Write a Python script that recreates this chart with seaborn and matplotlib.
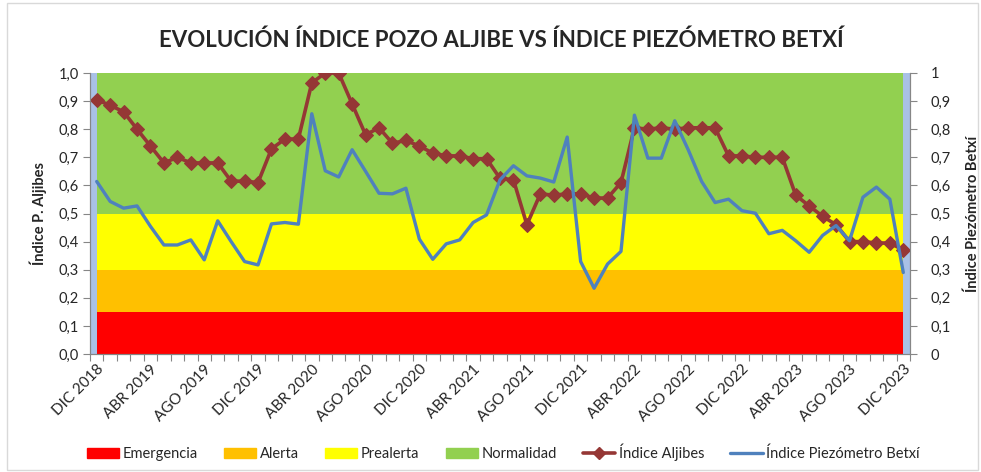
import matplotlib
import matplotlib.pyplot as plt
import matplotlib.patches as mpatches
import matplotlib.lines as mlines
import numpy as np
import pandas as pd
import seaborn as sns

matplotlib.use("Agg")

# Monthly series, DIC 2018 .. DIC 2023
MONTHS = ["ENE", "FEB", "MAR", "ABR", "MAY", "JUN",
          "JUL", "AGO", "SEP", "OCT", "NOV", "DIC"]
START_YEAR, START_MONTH = 2018, 12
N_MONTHS = 61

indice_aljibes = [
    0.905, 0.885, 0.862, 0.80, 0.74, 0.68, 0.70, 0.68, 0.68, 0.68,
    0.615, 0.615, 0.61, 0.73, 0.765, 0.765, 0.965, 1.0, 1.0, 0.89,
    0.78, 0.805, 0.75, 0.76, 0.74, 0.715, 0.705, 0.705, 0.695, 0.695,
    0.625, 0.62, 0.46, 0.57, 0.565, 0.57, 0.57, 0.555, 0.555, 0.61,
    0.805, 0.80, 0.805, 0.80, 0.805, 0.805, 0.805, 0.705, 0.705, 0.70,
    0.70, 0.70, 0.565, 0.527, 0.49, 0.46, 0.40, 0.40, 0.395, 0.395,
    0.37,
]
indice_piezometro = [
    0.614, 0.543, 0.519, 0.527, 0.454, 0.388, 0.388, 0.406, 0.335, 0.474,
    0.40, 0.329, 0.317, 0.463, 0.468, 0.462, 0.855, 0.652, 0.63, 0.727,
    0.65, 0.572, 0.57, 0.59, 0.409, 0.337, 0.392, 0.406, 0.468, 0.495,
    0.62, 0.67, 0.634, 0.626, 0.612, 0.772, 0.329, 0.234, 0.32, 0.365,
    0.85, 0.697, 0.697, 0.83, 0.727, 0.614, 0.539, 0.551, 0.51, 0.501,
    0.428, 0.44, 0.403, 0.362, 0.422, 0.457, 0.403, 0.558, 0.594, 0.551,
    0.29,
]

# Threshold bands (stacked heights)
band_names = ["Emergencia", "Alerta", "Prealerta", "Normalidad"]
band_heights = [0.15, 0.15, 0.20, 0.50]
band_colors = ["#FF0000", "#FFC000", "#FFFF00", "#92D050"]

ALJ_COLOR = "#953735"
PIEZ_COLOR = "#4F81BD"
EDGE_COLOR = "#a9c1e6"
AXIS_GRAY = "#868686"


def month_labels():
    labels = []
    for k in range(N_MONTHS):
        m = (START_MONTH - 1 + k) % 12
        y = START_YEAR + (START_MONTH - 1 + k) // 12
        labels.append(f"{MONTHS[m]} {y}")
    return labels


def main():
    sns.set_theme(style="white")
    plt.rcParams["font.family"] = ["Lato", "DejaVu Sans"]

    labels = month_labels()
    df = pd.DataFrame({
        "idx": np.arange(N_MONTHS),
        "mes": labels,
        "aljibes": indice_aljibes,
        "piezometro": indice_piezometro,
    })

    fig = plt.figure(figsize=(9.81, 4.72), dpi=100)
    ax = fig.add_axes([90 / 981, 1 - 354 / 472, 820 / 981, 281 / 472])

    # coloured threshold bands
    x = df["idx"].to_numpy()
    ax.stackplot(x, *[np.full(N_MONTHS, h) for h in band_heights],
                 colors=band_colors, linewidth=0)
    ax.axvspan(-0.5, 0, color=EDGE_COLOR, lw=0)
    ax.axvspan(N_MONTHS - 1, N_MONTHS - 0.5, color=EDGE_COLOR, lw=0)

    sns.lineplot(data=df, x="idx", y="aljibes", ax=ax, color=ALJ_COLOR,
                 lw=2.6, marker="D", markersize=7, markeredgecolor=ALJ_COLOR,
                 zorder=5)

    # secondary axis drawn above the primary one
    ax2 = ax.twinx()
    sns.lineplot(data=df, x="idx", y="piezometro", ax=ax2, color=PIEZ_COLOR,
                 lw=2.4, zorder=4)

    for a in (ax, ax2):
        a.set_xlim(-0.5, N_MONTHS - 0.5)
        a.set_ylim(0, 1)
        for s in a.spines.values():
            s.set_color(AXIS_GRAY)
            s.set_linewidth(0.8)
        a.spines["top"].set_visible(False)

    yt = np.round(np.arange(0, 1.01, 0.1), 1)
    ax.set_yticks(yt)
    ax.set_yticklabels([f"{v:.1f}".replace(".", ",") for v in yt])
    ax2.set_yticks(yt)
    ax2.set_yticklabels([("0" if v == 0 else "1" if v == 1 else f"{v:.1f}".replace(".", ",")) for v in yt])

    ax.set_xticks(np.arange(0, N_MONTHS, 4))
    ax.set_xticklabels(labels[::4], rotation=45, ha="right",
                       rotation_mode="anchor", fontsize=11)
    ax.set_xticks(np.arange(-0.5, N_MONTHS, 1), minor=True)
    ax.tick_params(axis="x", which="major", length=0, pad=6, bottom=True)
    ax.tick_params(axis="x", which="minor", length=5, color=AXIS_GRAY,
                   bottom=True, width=0.8)
    ax.tick_params(axis="y", length=5, color=AXIS_GRAY, left=True,
                   labelsize=10.5, pad=3, width=0.8)
    ax2.tick_params(axis="y", length=5, color=AXIS_GRAY, right=True,
                    labelsize=10.5, pad=10, width=0.8)

    ax.set_xlabel("")
    ax.set_ylabel("Índice P. Aljibes", fontsize=10.5, fontweight="bold",
                  labelpad=8)
    ax2.set_xlabel("")
    ax2.set_ylabel("Índice Piezómetro Betxí", fontsize=10.5,
                   fontweight="bold", rotation=90, labelpad=10)

    fig.text(501 / 981, 1 - 40 / 472, "EVOLUCIÓN ÍNDICE POZO ALJIBE VS ÍNDICE PIEZÓMETRO BETXÍ",
             ha="center", va="center", fontsize=16, fontweight="bold")

    handles = [mpatches.Patch(color=c, label=n)
               for n, c in zip(band_names, band_colors)]
    handles.append(mlines.Line2D([], [], color=ALJ_COLOR, lw=2.6, marker="D",
                                 markersize=6, label="Índice Aljibes"))
    handles.append(mlines.Line2D([], [], color=PIEZ_COLOR, lw=2.4,
                                 label="Índice Piezómetro Betxí"))
    fig.legend(handles=handles, loc="center", bbox_to_anchor=(0.513, 1 - 452 / 472),
               ncol=6, frameon=False, fontsize=10.5, handlelength=2.2,
               handleheight=0.7, handletextpad=0.25, columnspacing=1.8)

    fig.add_artist(mpatches.Rectangle((7 / 981, 2 / 472), 971 / 981, 467 / 472,
                                      transform=fig.transFigure, fill=False,
                                      edgecolor="#d9d9d9", lw=1))

    fig.savefig("out.png", dpi=100)
    plt.close(fig)


if __name__ == "__main__":
    main()
